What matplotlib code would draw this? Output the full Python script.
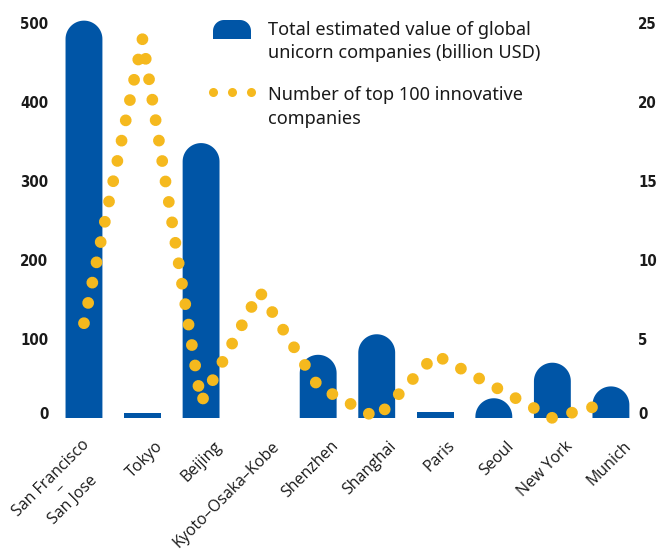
import matplotlib
matplotlib.use("Agg")
import matplotlib.pyplot as plt
from matplotlib.patches import Polygon
from matplotlib.lines import Line2D
import matplotlib.transforms as mtransforms
from matplotlib import font_manager
from matplotlib.font_manager import FontProperties
import numpy as np

# ---------------- data ----------------
cities = ["San Francisco\n–\nSan Jose", "Tokyo", "Beijing", "Kyoto–Osaka–Kobe",
          "Shenzhen", "Shanghai", "Paris", "Seoul", "New York", "Munich"]
unicorn_value = [503, 6, 348, 0.6, 80, 106, 7, 25, 70, 40]    # billion USD (left axis)
top100_count = [6, 24, 1, 8, 2, 0, 4, 2, 0, 1]                # right axis
left_ticks = [0, 100, 200, 300, 400, 500]
right_ticks = [0, 5, 10, 15, 20, 25]
legend_labels = ["Total estimated value of global\nunicorn companies (billion USD)",
                 "Number of top 100 innovative\ncompanies"]

BLUE = "#0055a6"
YELLOW = "#f5b91e"
TXT = "#1a1a1a"

W, H = 657, 560
fig = plt.figure(figsize=(W / 100, H / 100), dpi=100)
plt.rcParams["lines.scale_dashes"] = False

# look for a condensed / narrow bold face for the numeric ticks
def _weight(w):
    try:
        return int(w)
    except Exception:
        return {"bold": 700, "semibold": 600, "demibold": 600, "heavy": 800,
                "black": 900, "normal": 400, "regular": 400, "medium": 500}.get(str(w).lower(), 400)

cands = []
for f in font_manager.fontManager.ttflist:
    nm = f.name.lower()
    is_cond = ("condensed" in nm or "narrow" in nm or
               str(f.stretch).lower() in ("condensed", "semi-condensed", "extra-condensed") or
               (isinstance(f.stretch, (int, float)) and f.stretch <= 400) or
               "condensed" in f.fname.lower() or "narrow" in f.fname.lower())
    if is_cond and f.style == "normal":
        cands.append((abs(_weight(f.weight) - 700), f.fname))
cands.sort()
if cands:
    tick_fp = FontProperties(fname=cands[0][1], size=13)
else:
    tick_fp = FontProperties(family=["Roboto", "DejaVu Sans"], weight="bold", size=13)

# axes geometry (pixels)
ax_left, ax_bottom_px, ax_w = 54.7, 418.0, 585.5
ymax_left, ymax_right = 520, 26
ax_h = ymax_left * 0.79
ax = fig.add_axes([ax_left / W, (H - ax_bottom_px) / H, ax_w / W, ax_h / H])
ax2 = ax.twinx()

n = len(cities)
x = np.arange(n)
ax.set_xlim(-0.5, n - 0.5)
ax.set_ylim(0, ymax_left)
ax2.set_ylim(0, ymax_right)

# rounded-top bars
bw = 0.63
rx = bw / 2
px_per_x = ax_w / n
px_per_y = ax_h / ymax_left
ry = rx * px_per_x / px_per_y
t = np.linspace(np.pi, 0, 40)
for xi, v in zip(x, unicorn_value):
    if v > ry:
        pts = [(xi - rx, 0), (xi - rx, v - ry)]
        pts += list(zip(xi + rx * np.cos(t), v - ry + ry * np.sin(t)))
        pts += [(xi + rx, v - ry), (xi + rx, 0)]
    else:
        pts = [(xi - rx, 0), (xi - rx, v), (xi + rx, v), (xi + rx, 0)]
    ax.add_patch(Polygon(pts, closed=True, facecolor=BLUE, edgecolor="none",
                         clip_on=False, zorder=2))

# dotted line
ax2.plot(x, top100_count, color=YELLOW, lw=8.5, linestyle=(0, (0.01, 14.9)),
         dash_capstyle="round", solid_capstyle="round", zorder=3, clip_on=False)

# spines / ticks
for a in (ax, ax2):
    for s in a.spines.values():
        s.set_visible(False)

# size the numeric tick font so "500" is roughly as wide as in the reference
renderer = fig.canvas.get_renderer()
probe = fig.text(0, 0, "500", fontproperties=tick_fp)
wpx = probe.get_window_extent(renderer).width
probe.remove()
if wpx > 28:
    tick_fp.set_size(tick_fp.get_size() * 28 / wpx)

ax.set_yticks(left_ticks)
ax.set_yticklabels([str(v) for v in left_ticks], fontproperties=tick_fp, color=TXT)
ax2.set_yticks(right_ticks)
ax2.set_yticklabels([str(v) for v in right_ticks], fontproperties=tick_fp, color=TXT)
ax.tick_params(axis="y", length=0, pad=4.5)
ax2.tick_params(axis="y", length=0, pad=-1.5)
for lab in (ax.get_yticklabels()[0], ax2.get_yticklabels()[0]):
    lab.set_transform(lab.get_transform() + mtransforms.ScaledTranslation(0, 5 / 100, fig.dpi_scale_trans))

ax.set_xticks(x)
ax.set_xticklabels(cities, rotation=45, ha="right", va="top", rotation_mode="anchor",
                   family=["Open Sans", "DejaVu Sans"], size=11.5, color=TXT, linespacing=0.95,
                   multialignment="center")
ax.tick_params(axis="x", length=0, pad=0)
for i, lab in enumerate(ax.get_xticklabels()):
    dx, dy = (12, -20) if i > 0 else (-3, -19)
    lab.set_transform(lab.get_transform() + mtransforms.ScaledTranslation(dx / 100, dy / 100, fig.dpi_scale_trans))

# ---------------- legend ----------------
def fx(px):
    return px / W

def fy(py):
    return (H - py) / H

r = 11
x0, x1, y0, y1 = 213, 251, 39, 20
verts = [(x0, y0), (x0, y1 + r)]
tt = np.linspace(np.pi, np.pi / 2, 15)
verts += [(x0 + r + r * np.cos(a), y1 + r - r * np.sin(a)) for a in tt]
tt = np.linspace(np.pi / 2, 0, 15)
verts += [(x1 - r + r * np.cos(a), y1 + r - r * np.sin(a)) for a in tt]
verts += [(x1, y0)]
fig.add_artist(Polygon([(fx(a), fy(b)) for a, b in verts], closed=True,
                       transform=fig.transFigure, facecolor=BLUE, edgecolor="none"))
fig.add_artist(Line2D([fx(213), fx(232), fx(251)], [fy(92)] * 3, transform=fig.transFigure,
                      ls="none", marker="o", ms=6.5, color=YELLOW, markeredgewidth=0))

leg_font = dict(family=["Noto Sans", "DejaVu Sans"], size=13.1, color=TXT)
l1, l2 = legend_labels[0].split("\n")
l3, l4 = legend_labels[1].split("\n")
for txt, base in ((l1, 35), (l2, 58.5), (l3, 100), (l4, 123.5)):
    fig.text(fx(268), fy(base), txt, ha="left", va="baseline", **leg_font)

fig.savefig("out.png", dpi=100)
